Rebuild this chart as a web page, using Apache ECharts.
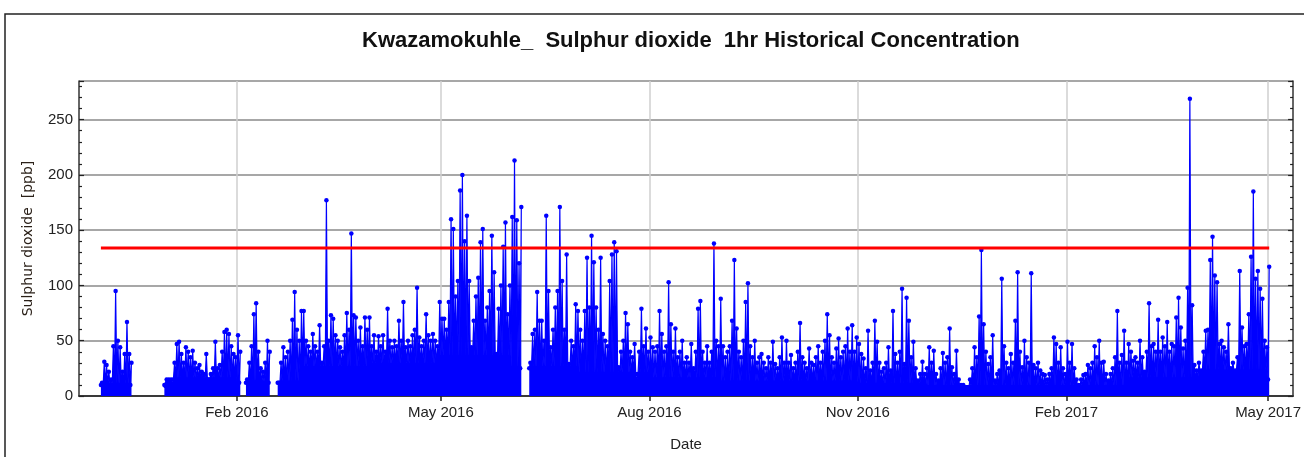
<!DOCTYPE html>
<html>
<head>
<meta charset="utf-8">
<title>Kwazamokuhle SO2</title>
<script src="https://cdn.jsdelivr.net/npm/echarts@6/dist/echarts.min.js"></script>
<style>
  html, body { margin: 0; padding: 0; background: #fff; }
  #main { width: 1304px; height: 457px; }
</style>
</head>
<body>
<div id="main"></div>
<script>
// daily peak of the 1hr readings (ppb), one array per month, null = no data
var dec2015 = [null, null, 12, 31, 28, 22, 15, 45, 95, 50, 44, 22, 38, 67, 38, 30,
  null, null, null, null, null, null, null, null, null, null, null, null, null, null, 9]
var jan2016 = [12, 13, 10, 30, 47, 49, 38, 30, 44, 40, 35, 41, 30, 25, 28, 22, 20, 38, 15, 20,
  25, 49, 25, 28, 40, 58, 60, 56, 45, 38, 35]
var feb2016 = [55, 40, null, null, 15, 30, 45, 74, 84, 40, 25, 22, 30, 50, 40, null, null, null,
  12, 30, 44, 35, 40, 50, 69, 94, 60, 50, 77]
var mar2016 = [77, 50, 45, 40, 56, 45, 40, 64, 30, 45, 177, 50, 73, 70, 55, 50, 44, 40, 55, 75,
  60, 147, 73, 71, 50, 62, 45, 71, 60, 71, 45]
var apr2016 = [55, 40, 54, 45, 55, 40, 79, 50, 44, 50, 45, 68, 50, 85, 44, 50, 45, 55, 60, 98,
  53, 45, 50, 74, 55, 50, 56, 50, 45, 85]
var may2016 = [70, 70, 60, 85, 160, 151, 90, 104, 186, 200, 140, 163, 104, 44, 68, 90, 107, 139, 151, 68,
  80, 95, 145, 112, 38, 79, 100, 135, 157, 74, 100]
var jun2016 = [162, 213, 159, 120, 171, null, null, null, 30, 56, 60, 94, 68, 68, 50, 163, 95, 44, 60, 80,
  95, 171, 104, 60, 128, 29, 50, 45, 83, 77]
var jul2016 = [60, 50, 77, 125, 80, 145, 121, 80, 60, 125, 56, 50, 45, 104, 128, 139, 131, 26, 40, 50,
  75, 65, 40, 35, 47, 14, 40, 79, 45, 61, 40]
var aug2016 = [53, 44, 40, 45, 77, 56, 40, 45, 103, 65, 40, 61, 35, 40, 50, 30, 35, 30, 47, 25,
  40, 79, 86, 40, 30, 45, 30, 40, 138, 50, 45]
var sep2016 = [88, 45, 35, 40, 45, 68, 123, 61, 40, 35, 50, 85, 102, 45, 35, 50, 30, 35, 38, 30,
  25, 35, 30, 49, 29, 25, 35, 53, 30, 50]
var oct2016 = [30, 37, 25, 30, 40, 66, 35, 30, 25, 43, 30, 28, 35, 45, 30, 40, 50, 74, 55, 35,
  30, 43, 52, 35, 40, 45, 61, 40, 64, 40, 53]
var nov2016 = [47, 38, 34, 25, 59, 23, 30, 68, 49, 30, 22, 25, 30, 44, 23, 77, 38, 30, 40, 97,
  29, 89, 68, 35, 49, 25, 14, 20, 31, 20]
var dec2016 = [25, 44, 30, 41, 20, 14, 25, 39, 30, 35, 61, 26, 20, 41, 15, 10, 10, 8, 8, 15,
  25, 44, 35, 72, 132, 65, 40, 29, 35, 55, 14]
var jan2017 = [20, 23, 106, 45, 30, 25, 38, 30, 68, 112, 40, 26, 50, 35, 30, 111, 28, 25, 30, 23,
  20, 19, 15, 20, 25, 53, 47, 30, 44, 25, 20]
var feb2017 = [49, 30, 47, 25, 15, 10, 15, 19, 20, 28, 25, 30, 45, 35, 50, 30, 31, 20, 14, 20,
  25, 35, 77, 30, 37, 59, 30, 47]
var mar2017 = [40, 32, 35, 30, 50, 35, 22, 40, 84, 45, 47, 40, 69, 40, 53, 45, 67, 40, 47, 45,
  71, 89, 62, 43, 50, 98, 269, 82, 28, 23, 30]
var apr2017 = [23, 40, 59, 60, 123, 144, 109, 103, 47, 50, 44, 40, 65, 25, 30, 23, 35, 113, 62, 45,
  47, 74, 126, 185, 106, 113, 97, 88, 50, 44]
var may2017 = [117]

// level up to which the hourly trace is solid blue, per month
var floors = [10, 15, 12, 25, 28, 35, 25, 20, 15, 12, 12, 10, 8, 8, 8, 15, 22, 15]

var months = [
  [2015, 11, dec2015], [2016, 0, jan2016], [2016, 1, feb2016], [2016, 2, mar2016],
  [2016, 3, apr2016], [2016, 4, may2016], [2016, 5, jun2016], [2016, 6, jul2016],
  [2016, 7, aug2016], [2016, 8, sep2016], [2016, 9, oct2016], [2016, 10, nov2016],
  [2016, 11, dec2016], [2017, 0, jan2017], [2017, 1, feb2017], [2017, 2, mar2017],
  [2017, 3, apr2017], [2017, 4, may2017]
]

var limit = 134 // 1hr SO2 standard, ppb
var tickDates = [Date.UTC(2016, 1, 1), Date.UTC(2016, 4, 1), Date.UTC(2016, 7, 1),
  Date.UTC(2016, 10, 1), Date.UTC(2017, 1, 1), Date.UTC(2017, 4, 1)]
var monthNames = ['Jan', 'Feb', 'Mar', 'Apr', 'May', 'Jun', 'Jul', 'Aug', 'Sep', 'Oct', 'Nov', 'Dec']

var xMin = Date.UTC(2015, 10, 23, 8)
var xMax = Date.UTC(2017, 4, 12, 1)

// build the trace: low of the day at 00:00, peak at 12:00
var trace = []
var firstTs = null
var lastTs = null
for (var m = 0; m < months.length; m++) {
  var y = months[m][0], mo = months[m][1], vals = months[m][2]
  for (var d = 0; d < vals.length; d++) {
    var t0 = Date.UTC(y, mo, d + 1, 0)
    var t1 = Date.UTC(y, mo, d + 1, 12)
    if (vals[d] == null) {
      trace.push([t0, null])
      continue
    }
    trace.push([t0, floors[m]])
    trace.push([t1, vals[d]])
    if (firstTs == null) firstTs = t0
    lastTs = t1
  }
}

var font = 'Liberation Sans, Arial, sans-serif'
var axisLineStyle = { color: '#333', width: 1.5 }

function dateLabel (v) {
  var dt = new Date(v)
  return monthNames[dt.getUTCMonth()] + ' ' + dt.getUTCFullYear()
}

var chart = echarts.init(document.getElementById('main'))
var option = {
  animation: false,
  backgroundColor: '#fff',
  title: {
    text: 'Kwazamokuhle_  Sulphur dioxide  1hr Historical Concentration',
    left: 357,
    top: 25,
    textStyle: { fontFamily: font, fontSize: 22, fontWeight: 'bold', color: '#111' }
  },
  graphic: [{
    type: 'polyline',
    shape: { points: [[5, 457], [5, 14], [1304, 14]] },
    style: { stroke: '#222', lineWidth: 1.5, fill: null }
  }],
  grid: { left: 79, right: 10, top: 81, bottom: 61 },
  xAxis: [{
    type: 'value',
    min: xMin,
    max: xMax,
    name: 'Date',
    nameLocation: 'middle',
    nameGap: 41,
    nameTextStyle: { fontFamily: font, fontSize: 15, color: '#222' },
    axisLine: { lineStyle: axisLineStyle },
    axisTick: { inside: true, length: 5, lineStyle: { color: '#222', width: 1.5 }, customValues: tickDates },
    axisLabel: {
      customValues: tickDates,
      fontFamily: font, fontSize: 15, color: '#222', margin: 9,
      formatter: dateLabel
    },
    splitLine: { show: true, lineStyle: { color: '#cfcfcf', width: 1.5 } }
  }, {
    type: 'value',
    position: 'top',
    min: xMin,
    max: xMax,
    axisLine: { show: true, lineStyle: axisLineStyle },
    axisTick: { inside: true, length: 5, lineStyle: { color: '#222', width: 1.5 }, customValues: tickDates },
    axisLabel: { show: false, customValues: tickDates },
    splitLine: { show: false }
  }],
  yAxis: [{
    type: 'value',
    min: 0,
    max: 285,
    interval: 50,
    name: 'Sulphur dioxide  [ppb]',
    nameLocation: 'middle',
    nameGap: 44,
    nameTextStyle: { fontFamily: 'DejaVu Sans, sans-serif', fontSize: 14, color: '#2a2018' },
    axisLine: { show: true, lineStyle: axisLineStyle },
    axisTick: { show: true, inside: true, length: 5, lineStyle: { color: '#222', width: 1.2 } },
    minorTick: { show: true, splitNumber: 5, length: 3, lineStyle: { color: '#222', width: 1.2 } },
    axisLabel: { fontFamily: font, fontSize: 15, color: '#222', margin: 6, showMaxLabel: false },
    splitLine: { show: true, lineStyle: { color: '#8a8a8a', width: 1.5 } }
  }, {
    type: 'value',
    position: 'right',
    min: 0,
    max: 285,
    interval: 50,
    axisLine: { show: true, lineStyle: axisLineStyle },
    axisTick: { show: true, inside: true, length: 5, lineStyle: { color: '#222', width: 1.2 } },
    minorTick: { show: true, splitNumber: 5, length: 3, lineStyle: { color: '#222', width: 1.2 } },
    axisLabel: { show: false },
    splitLine: { show: false }
  }],
  series: [{
    name: 'SO2 1hr',
    type: 'line',
    data: trace,
    connectNulls: false,
    showAllSymbol: true,
    symbol: 'circle',
    symbolSize: 4.5,
    lineStyle: { color: '#0000ff', width: 1.2 },
    itemStyle: { color: '#0000ff' },
    areaStyle: { color: '#0000ff', opacity: 1 },
    emphasis: { disabled: true }
  }, {
    name: 'Limit',
    type: 'line',
    data: [[firstTs, limit], [lastTs, limit]],
    symbol: 'none',
    lineStyle: { color: '#ff0000', width: 3 },
    z: 5
  }]
}
chart.setOption(option)
</script>
</body>
</html>
